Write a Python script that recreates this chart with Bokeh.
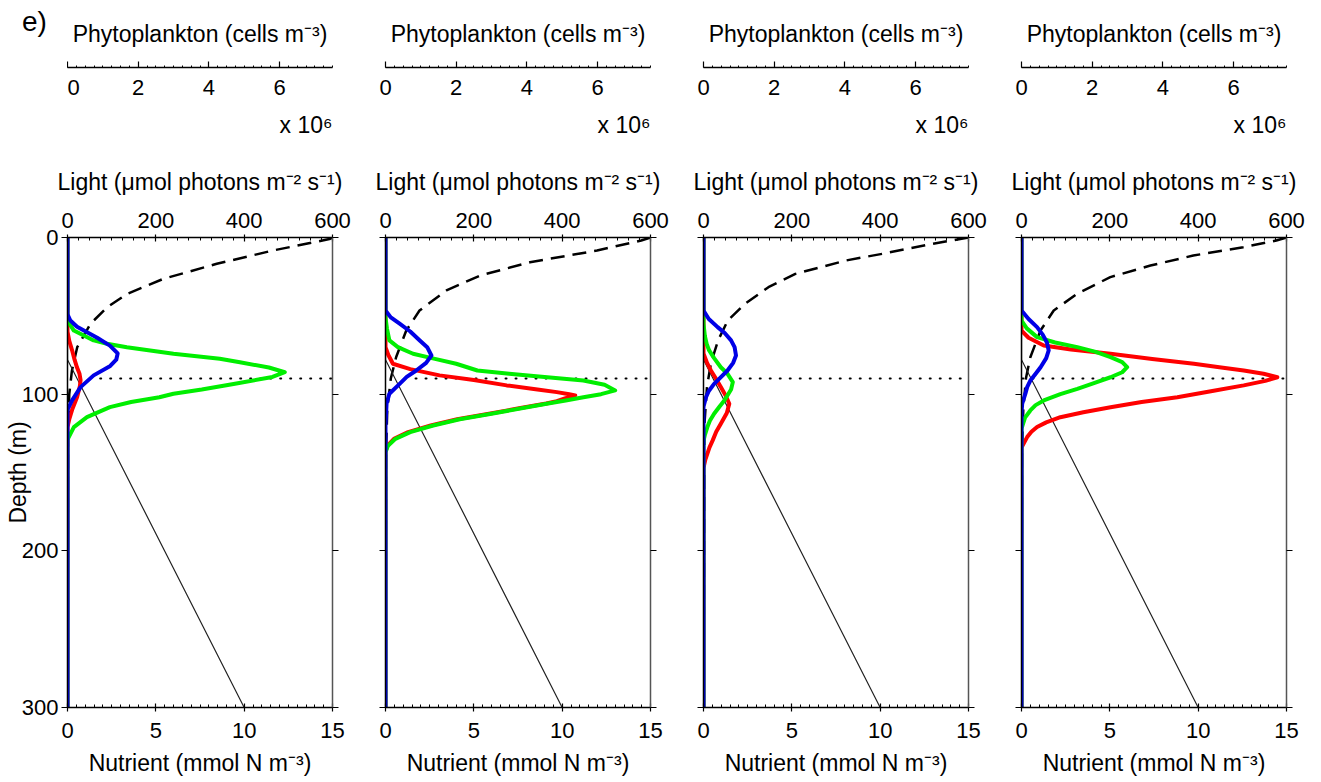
import numpy as np
from bokeh.plotting import figure
from bokeh.models import Range1d, LinearAxis, FixedTicker, Title, Div
from bokeh.layouts import row, column
from bokeh.embed import file_html
from bokeh.resources import INLINE

FONT = "Liberation Sans"
FS = "22px"
TFS = "23px"

# ---------------- tick labels ----------------
PHYTO_TICKS = [0, 2, 4, 6]
LIGHT_TICKS = [0, 200, 400, 600]
NUTRIENT_TICKS = [0, 5, 10, 15]
DEPTH_TICKS = [0, 100, 200, 300]

PHYTO_TITLE = "Phytoplankton (cells m\u207b\u00b3)"
PHYTO_SCALE = "x 10\u2076"
LIGHT_TITLE = "Light (\u03bcmol photons m\u207b\u00b2 s\u207b\u00b9)"
NUTRIENT_TITLE = "Nutrient (mmol N m\u207b\u00b3)"
DEPTH_TITLE = "Depth (m)"
PANEL_LABEL = "e)"

# ---------------- data ----------------
# light (umol photons m-2 s-1) vs depth (m)
p1_light_depth = [0, 1, 8.3, 16.8, 26.4, 36, 44.5, 55.1, 70, 85, 100, 130, 300]
p1_light = [600, 593, 465, 338, 217, 135, 90, 52, 22, 10, 4, 1, 0]
p2_light_depth = [0, 1.9, 8.3, 15.8, 24.3, 33.8, 46.6, 59.4, 76.4, 90, 110, 140, 300]
p2_light = [600, 579, 479, 327, 214, 138, 77, 47, 24, 12, 4, 1, 0]
p3_light_depth = [0, 4, 10.4, 14.7, 23.2, 31.7, 42.3, 53, 65.7, 80, 95, 120, 300]
p3_light = [600, 520, 405, 322, 208, 147, 94, 55, 33, 17, 8, 2, 0]
p4_light_depth = [0, 1.9, 6.2, 11.5, 17.9, 25.3, 35.9, 46.6, 59.4, 76.4, 90, 110, 140, 300]
p4_light = [600, 577, 502, 389, 292, 201, 126, 73, 43, 20, 10, 4, 1, 0]

# nutrient (mmol N m-3) vs depth (m)
nutrient_depth = [0, 78, 300]
nutrient = [0, 0, 10]

# depth of dotted line (m) and its left end (nutrient units) in each panel
dotted_depth = 90
dotted_start = [1.85, 1.7, 2.05, 0.05]

# phytoplankton (10^6 cells m-3) vs depth (m)
p1_red_depth = [0, 60, 66, 72, 78, 83, 87, 91, 95, 102, 110, 116, 121, 300]
p1_red = [0, 0, 0.05, 0.13, 0.2, 0.27, 0.34, 0.37, 0.35, 0.27, 0.13, 0.05, 0, 0]
p1_green_depth = [0, 53, 59.4, 65.7, 67.8, 70, 74.2, 77.4, 79.6, 83, 86, 89, 93.5, 97, 99.7,
                  102, 105, 108.3, 114.7, 121, 129, 300]
p1_green = [0, 0, 0.18, 0.74, 1.12, 1.68, 3.0, 4.31, 4.88, 5.7, 6.15, 5.8, 4.7, 3.8, 3.0,
            2.6, 1.8, 1.2, 0.55, 0.18, 0, 0]
p1_blue_depth = [0, 49, 53, 57, 64, 69, 74, 78, 82, 88, 95.5, 104, 110, 300]
p1_blue = [0, 0, 0.08, 0.27, 0.84, 1.2, 1.42, 1.38, 1.21, 0.74, 0.37, 0.13, 0, 0]

p2_red_depth = [0, 70, 75, 80.6, 84, 88, 91, 94.4, 97, 98.7, 100, 100.8, 102.5, 104.5, 106,
                109, 112.5, 116, 120, 124.2, 128.5, 133, 137, 300]
p2_red = [0, 0, 0.08, 0.21, 0.7, 1.53, 2.5, 3.43, 4.3, 4.85, 5.2, 5.37, 5.1, 4.85, 4.55,
          3.78, 2.93, 2.03, 1.28, 0.64, 0.24, 0.05, 0, 0]
p2_green_depth = [0, 51, 58, 65.7, 70, 74.2, 77.5, 80.6, 84.9, 87, 89, 91.3, 94, 97.6, 100,
                  102, 104, 106, 109, 112.5, 116, 120, 124.2, 128.5, 133, 137, 300]
p2_green = [0, 0, 0.04, 0.11, 0.35, 0.78, 1.4, 2.0, 2.6, 3.5, 4.5, 5.6, 6.2, 6.5, 6.1,
            5.6, 5.1, 4.6, 3.85, 3.0, 2.1, 1.35, 0.7, 0.28, 0.07, 0, 0]
p2_blue_depth = [0, 46.6, 51, 55, 60, 65.7, 70, 75.3, 80, 84.9, 89, 93.4, 99.7, 106, 120, 300]
p2_blue = [0, 0, 0.15, 0.4, 0.7, 0.97, 1.18, 1.3, 1.15, 0.87, 0.6, 0.4, 0.11, 0.03, 0, 0]

p3_red_depth = [0, 74, 80, 84.9, 90, 95.5, 101, 106.1, 112, 118.9, 124, 129.5, 134, 138, 142,
                147, 300]
p3_red = [0, 0, 0.1, 0.21, 0.35, 0.49, 0.63, 0.73, 0.66, 0.49, 0.36, 0.26, 0.17, 0.11, 0.05,
          0, 0]
p3_green_depth = [0, 55, 63, 68, 72.1, 77, 82.8, 87, 92.3, 97, 104, 108, 112.5, 117, 121, 126,
                  130, 300]
p3_green = [0, 0, 0.04, 0.09, 0.16, 0.3, 0.49, 0.68, 0.83, 0.78, 0.59, 0.45, 0.3, 0.18, 0.11,
            0.04, 0, 0]
p3_blue_depth = [0, 46.6, 52, 57.2, 61, 65.7, 70, 75.3, 80, 84.9, 89, 93.4, 98, 102, 108, 300]
p3_blue = [0, 0, 0.15, 0.4, 0.6, 0.78, 0.88, 0.92, 0.84, 0.68, 0.5, 0.3, 0.15, 0.07, 0, 0]

p4_red_depth = [0, 59.4, 64, 68.9, 71.5, 74.2, 77.5, 80.6, 82.8, 84.9, 87, 89.2, 91.5, 94.4,
                98, 102, 105, 108.3, 111.5, 114.7, 118, 121, 124, 127.4, 134, 300]
p4_red = [0, 0, 0.2, 0.63, 1.4, 2.52, 3.7, 4.88, 5.6, 6.29, 6.85, 7.24, 6.9, 6.29,
          5.4, 4.41, 3.4, 2.52, 1.75, 1.1, 0.7, 0.44, 0.28, 0.16, 0, 0]
p4_green_depth = [0, 53, 58, 63.6, 67, 70, 73, 76.4, 79.5, 82.8, 86, 89.2, 93, 96.6, 100, 104,
                  107, 110.4, 115, 122, 300]
p4_green = [0, 0, 0.15, 0.44, 0.95, 1.58, 2.1, 2.52, 2.85, 2.99, 2.85, 2.52, 2.05, 1.58, 1.1,
            0.63, 0.4, 0.25, 0.1, 0, 0]
p4_blue_depth = [0, 46.6, 52, 57.2, 62, 67, 72.1, 77, 82.8, 87, 91.3, 95.5, 99.7, 106, 112, 300]
p4_blue = [0, 0, 0.2, 0.44, 0.6, 0.72, 0.77, 0.7, 0.54, 0.4, 0.25, 0.16, 0.11, 0.02, 0, 0]

panels = [
    dict(light=(p1_light_depth, p1_light), red=(p1_red_depth, p1_red),
         green=(p1_green_depth, p1_green), blue=(p1_blue_depth, p1_blue)),
    dict(light=(p2_light_depth, p2_light), red=(p2_red_depth, p2_red),
         green=(p2_green_depth, p2_green), blue=(p2_blue_depth, p2_blue)),
    dict(light=(p3_light_depth, p3_light), red=(p3_red_depth, p3_red),
         green=(p3_green_depth, p3_green), blue=(p3_blue_depth, p3_blue)),
    dict(light=(p4_light_depth, p4_light), red=(p4_red_depth, p4_red),
         green=(p4_green_depth, p4_green), blue=(p4_blue_depth, p4_blue)),
]

RED = "#ff0000"
GREEN = "#00ee00"
BLUE = "#0000e6"

FW = 265
FH = 470
RB = 26
LB_FIRST = 67
LB = 27
TOP_H = 150


def style_axis(ax):
    ax.axis_line_color = "black"
    ax.axis_line_width = 1.5
    ax.major_tick_line_color = "black"
    ax.minor_tick_line_color = "black"
    ax.major_tick_line_width = 1.2
    ax.minor_tick_line_width = 1
    ax.major_label_text_font = FONT
    ax.major_label_text_font_size = FS
    ax.major_label_text_color = "black"
    ax.axis_label_text_font = FONT
    ax.axis_label_text_font_size = TFS
    ax.axis_label_text_font_style = "normal"
    ax.axis_label_text_color = "black"


def label_div():
    return Div(text=PANEL_LABEL, width=LB_FIRST, height=TOP_H,
               styles={"font-family": FONT, "font-size": "28px", "color": "black",
                       "padding-left": "22px", "padding-top": "6px", "line-height": "32px",
                       "box-sizing": "border-box", "margin": "0"})


def phyto_fig(first):
    lb = 0 if first else LB
    pf = figure(frame_width=FW, frame_height=10, x_range=Range1d(0, 7.5), y_range=Range1d(0, 1),
                title=PHYTO_TITLE, x_axis_location=None, y_axis_location=None,
                toolbar_location=None, output_backend="svg",
                min_border_left=lb, min_border_right=RB, min_border_top=57, min_border_bottom=83)
    pf.outline_line_color = None
    pf.grid.grid_line_color = None
    pf.title.align = "center"
    pf.title.text_font = FONT
    pf.title.text_font_size = TFS
    pf.title.text_font_style = "normal"
    pf.title.text_color = "black"
    pf.title.standoff = 21
    ax = LinearAxis(ticker=FixedTicker(ticks=PHYTO_TICKS,
                                       minor_ticks=list(np.arange(0, 7.51, 0.25))))
    style_axis(ax)
    ax.major_tick_in = 6
    ax.major_tick_out = 0
    ax.minor_tick_in = 2
    ax.minor_tick_out = 0
    ax.major_label_standoff = 12
    pf.add_layout(ax, "below")
    pf.add_layout(Title(text=PHYTO_SCALE, align="right", text_font=FONT, text_font_size=TFS,
                        text_font_style="normal", text_color="black", standoff=24), "below")
    return pf


def main_fig(k, d):
    first = k == 0
    lb = LB_FIRST if first else LB
    p = figure(frame_width=FW, frame_height=FH, x_range=Range1d(0, 15), y_range=Range1d(300, 0),
               x_axis_location=None, y_axis_location=None, toolbar_location=None,
               output_backend="svg", min_border_left=lb, min_border_right=RB,
               min_border_top=87, min_border_bottom=75)
    p.extra_x_ranges = {"light": Range1d(0, 600), "phyto": Range1d(0, 7.5)}
    p.outline_line_color = None
    p.grid.grid_line_color = None

    lax = LinearAxis(x_range_name="light", axis_label=LIGHT_TITLE,
                     ticker=FixedTicker(ticks=LIGHT_TICKS, minor_ticks=list(np.arange(0, 601, 25))))
    style_axis(lax)
    lax.major_tick_in = 4
    lax.major_tick_out = 3
    lax.minor_tick_in = 3
    lax.minor_tick_out = 0
    lax.major_label_standoff = 7
    lax.axis_label_standoff = 15
    p.add_layout(lax, "above")

    nax = LinearAxis(axis_label=NUTRIENT_TITLE,
                     ticker=FixedTicker(ticks=NUTRIENT_TICKS,
                                        minor_ticks=list(np.arange(0, 15.01, 0.5))))
    style_axis(nax)
    nax.major_tick_in = 4
    nax.major_tick_out = 4
    nax.minor_tick_in = 3
    nax.minor_tick_out = 0
    nax.major_label_standoff = 11
    nax.axis_label_standoff = 9
    p.add_layout(nax, "below")

    yax = LinearAxis(ticker=FixedTicker(ticks=DEPTH_TICKS, minor_ticks=[]))
    style_axis(yax)
    yax.major_tick_in = 0
    yax.major_tick_out = 6
    if first:
        yax.axis_label = DEPTH_TITLE
        yax.major_label_standoff = 3
        yax.axis_label_standoff = -12
    else:
        yax.major_label_overrides = {t: "" for t in DEPTH_TICKS}
        yax.major_label_standoff = 0
    p.add_layout(yax, "left")

    rax = LinearAxis(ticker=FixedTicker(ticks=DEPTH_TICKS, minor_ticks=[]))
    style_axis(rax)
    rax.axis_line_color = "#555555"
    rax.major_tick_in = 0
    rax.major_tick_out = 6
    rax.major_label_overrides = {t: "" for t in DEPTH_TICKS}
    rax.major_label_standoff = 0
    p.add_layout(rax, "right")

    ld, lv = d["light"]
    p.line(x=lv, y=ld, x_range_name="light", line_color="black", line_width=2.5,
           line_dash="14 8")
    p.line(x=nutrient, y=nutrient_depth, line_color="#222222", line_width=1.2)
    p.line(x=[dotted_start[k], NUTRIENT_TICKS[-1]], y=[dotted_depth, dotted_depth],
           line_color="black", line_width=2, line_dash="1 9", line_cap="round")
    for key, col in (("red", RED), ("green", GREEN), ("blue", BLUE)):
        dd, vv = d[key]
        p.line(x=vv, y=dd, x_range_name="phyto", line_color=col, line_width=4,
               line_join="round")
    return p


cols = []
for k, d in enumerate(panels):
    if k == 0:
        top = row(label_div(), phyto_fig(True))
    else:
        top = phyto_fig(False)
    cols.append(column(top, main_fig(k, d)))

layout = row(*cols)
open("out.html", "w").write(file_html(layout, INLINE))
